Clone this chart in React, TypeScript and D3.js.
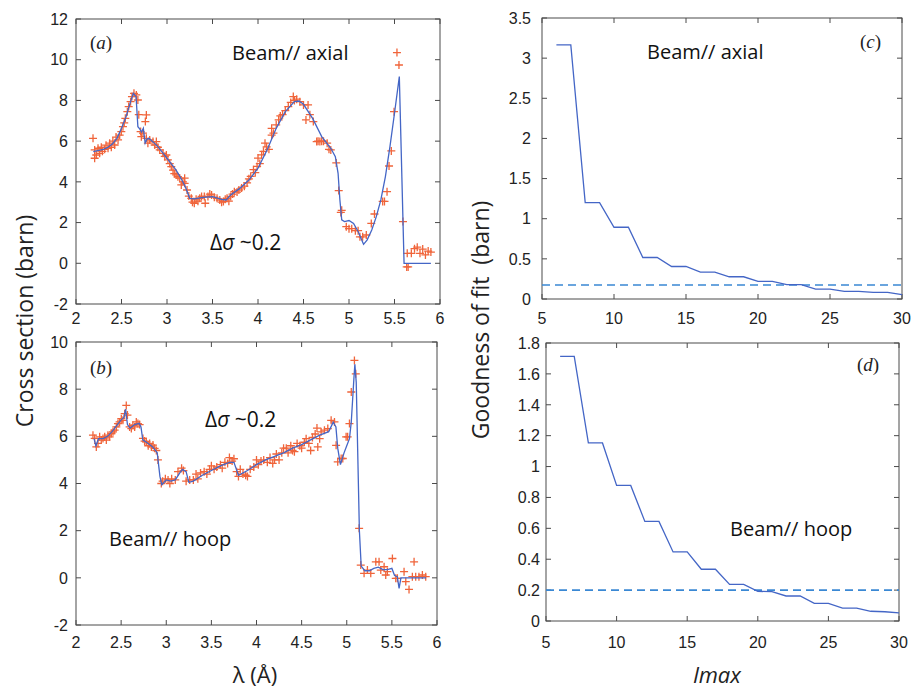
import React from 'react';
import * as d3 from 'd3';

// ---------- tick values ----------
const lambdaTicks = [2, 2.5, 3, 3.5, 4, 4.5, 5, 5.5, 6];
const axialYTicks = [-2, 0, 2, 4, 6, 8, 10, 12];
const hoopYTicks = [-2, 0, 2, 4, 6, 8, 10];
const lmaxTicks = [5, 10, 15, 20, 25, 30];
const gofAxialTicks = [0, 0.5, 1, 1.5, 2, 2.5, 3, 3.5];
const gofHoopTicks = [0, 0.2, 0.4, 0.6, 0.8, 1, 1.2, 1.4, 1.6, 1.8];

// ---------- panel (a): Beam // axial ----------
const axialFitLambda = [2.19, 2.25, 2.3, 2.35, 2.4, 2.45, 2.5, 2.55, 2.6, 2.63, 2.66, 2.68, 2.7, 2.72, 2.74, 2.76, 2.78, 2.8, 2.85, 2.9, 2.95, 3.0, 3.05, 3.1, 3.15, 3.2, 3.25, 3.3, 3.4, 3.5, 3.6, 3.65, 3.7, 3.8, 3.9, 4.0, 4.1, 4.2, 4.3, 4.4, 4.45, 4.5, 4.6, 4.7, 4.8, 4.85, 4.88, 4.9, 4.92, 4.95, 5.0, 5.05, 5.1, 5.16, 5.2, 5.25, 5.3, 5.35, 5.4, 5.45, 5.5, 5.553, 5.605, 5.9];
const axialFitSigma = [5.48, 5.55, 5.6, 5.7, 5.86, 6.14, 6.63, 7.2, 7.94, 8.35, 8.19, 6.71, 6.6, 6.45, 6.63, 5.9, 6.1, 6.14, 5.95, 5.73, 5.45, 5.16, 4.87, 4.58, 4.2, 3.77, 3.19, 3.16, 3.24, 3.27, 3.14, 3.11, 3.36, 3.68, 4.09, 4.67, 5.57, 6.63, 7.45, 7.94, 7.97, 7.81, 7.12, 6.22, 5.65, 5.24, 4.42, 3.11, 2.13, 2.05, 2.1, 1.96, 1.56, 0.93, 1.15, 1.64, 2.29, 3.11, 4.26, 5.73, 7.37, 9.17, 0, 0];
const axialPoints: [number, number][] = [
  [2.187, 6.14], [2.205, 5.57], [2.205, 5.16], [2.223, 5.32], [2.242, 5.65], [2.26, 5.4], [2.278, 5.7], [2.29, 5.5], [2.315, 5.6], [2.33, 5.8], [2.352, 5.65], [2.37, 5.9], [2.388, 5.7], [2.405, 6.0], [2.425, 5.81], [2.44, 6.2], [2.462, 6.06], [2.48, 6.3], [2.498, 6.47], [2.516, 6.71], [2.53, 6.9], [2.542, 7.12], [2.564, 7.45], [2.579, 7.7], [2.6, 7.94], [2.615, 8.19], [2.637, 8.35], [2.663, 8.27], [2.68, 8.02], [2.69, 7.3], [2.71, 6.47], [2.718, 6.22], [2.736, 6.39], [2.762, 6.96], [2.773, 7.29], [2.773, 6.14], [2.79, 5.9], [2.81, 6.06], [2.846, 5.98], [2.865, 5.81], [2.883, 5.98], [2.9, 5.7], [2.92, 5.57], [2.956, 5.4], [2.975, 5.25], [2.993, 5.32], [3.01, 5.08], [3.03, 4.9], [3.047, 4.75], [3.066, 4.58], [3.08, 4.4], [3.1, 4.34], [3.12, 4.25], [3.14, 4.18], [3.157, 3.85], [3.175, 4.0], [3.194, 4.18], [3.194, 3.93], [3.22, 3.6], [3.24, 3.3], [3.267, 3.19], [3.28, 3.0], [3.3, 2.95], [3.32, 3.15], [3.34, 3.05], [3.36, 3.19], [3.38, 3.28], [3.41, 3.28], [3.42, 2.95], [3.45, 3.28], [3.47, 3.4], [3.49, 3.36], [3.52, 3.25], [3.55, 3.19], [3.58, 3.11], [3.6, 3.0], [3.62, 3.03], [3.64, 3.15], [3.66, 3.19], [3.68, 3.05], [3.7, 3.28], [3.72, 3.4], [3.74, 3.52], [3.77, 3.5], [3.79, 3.6], [3.82, 3.7], [3.85, 3.79], [3.88, 3.95], [3.9, 4.15], [3.92, 4.27], [3.95, 4.6], [3.97, 4.45], [3.99, 4.76], [4.0, 5.17], [4.02, 4.9], [4.04, 5.33], [4.06, 5.5], [4.077, 5.9], [4.095, 5.72], [4.12, 5.6], [4.15, 6.3], [4.15, 6.63], [4.17, 6.39], [4.2, 6.8], [4.227, 7.04], [4.245, 7.24], [4.27, 7.3], [4.3, 7.5], [4.333, 7.7], [4.36, 7.9], [4.388, 8.19], [4.4, 8.0], [4.425, 8.06], [4.46, 7.94], [4.5, 7.78], [4.527, 7.04], [4.55, 7.78], [4.57, 7.3], [4.608, 6.96], [4.645, 5.98], [4.66, 6.0], [4.68, 5.98], [4.7, 6.0], [4.72, 6.0], [4.76, 5.9], [4.78, 5.6], [4.8, 5.57], [4.86, 4.93], [4.887, 3.57], [4.91, 2.5], [4.92, 2.6], [4.97, 1.8], [5.0, 1.7], [5.03, 1.7], [5.07, 1.6], [5.1, 1.6], [5.12, 1.3], [5.15, 1.3], [5.19, 1.39], [5.245, 1.96], [5.28, 2.42], [5.37, 3.04], [5.39, 3.04], [5.418, 3.52], [5.44, 4.78], [5.465, 5.52], [5.495, 7.45], [5.527, 10.35], [5.549, 9.74], [5.593, 2.05], [5.634, -0.18], [5.65, -0.18], [5.64, 0.49], [5.685, 0.49], [5.72, 0.72], [5.75, 0.79], [5.78, 0.49], [5.81, 0.7], [5.84, 0.41], [5.87, 0.6], [5.9, 0.55],
];

// ---------- panel (b): Beam // hoop ----------
const hoopFitLambda = [2.2, 2.22, 2.25, 2.3, 2.35, 2.4, 2.45, 2.5, 2.53, 2.55, 2.57, 2.6, 2.65, 2.7, 2.72, 2.74, 2.8, 2.85, 2.9, 2.93, 2.95, 3.0, 3.05, 3.1, 3.15, 3.18, 3.22, 3.25, 3.3, 3.4, 3.5, 3.6, 3.7, 3.75, 3.8, 3.9, 4.0, 4.1, 4.2, 4.3, 4.4, 4.5, 4.6, 4.7, 4.8, 4.85, 4.88, 4.9, 4.93, 4.97, 5.0, 5.03, 5.05, 5.08, 5.09, 5.105, 5.14, 5.16, 5.2, 5.25, 5.3, 5.35, 5.4, 5.45, 5.5, 5.53, 5.56, 5.58, 5.6, 5.88];
const hoopFitSigma = [5.9, 5.6, 5.9, 5.9, 6.0, 6.2, 6.45, 6.7, 6.8, 7.15, 6.5, 6.35, 6.5, 6.55, 6.4, 5.85, 5.7, 5.55, 5.3, 4.3, 3.95, 4.15, 4.1, 4.15, 4.45, 4.6, 4.5, 4.05, 4.1, 4.35, 4.55, 4.75, 4.9, 4.9, 4.35, 4.55, 4.8, 5.0, 5.15, 5.3, 5.5, 5.65, 5.85, 6.05, 6.2, 6.6, 6.4, 5.5, 4.8, 5.3, 5.6, 5.9, 6.6, 8.5, 9.05, 8.3, 2.0, 0.5, 0.3, 0.3, 0.4, 0.45, 0.35, 0.35, 0.4, 0.1, 0.05, -0.45, 0.0, 0.0];
const hoopPoints: [number, number][] = [
  [2.188, 6.05], [2.207, 5.91], [2.225, 5.55], [2.244, 5.7], [2.262, 5.98], [2.28, 5.84], [2.299, 5.91], [2.318, 5.98], [2.336, 5.84], [2.354, 6.05], [2.373, 5.98], [2.391, 6.12], [2.41, 6.19], [2.428, 6.26], [2.447, 6.4], [2.465, 6.54], [2.483, 6.61], [2.502, 6.75], [2.52, 6.68], [2.539, 6.96], [2.557, 7.31], [2.57, 6.9], [2.594, 6.4], [2.613, 6.33], [2.63, 6.47], [2.65, 6.4], [2.668, 6.61], [2.686, 6.54], [2.705, 6.5], [2.742, 5.91], [2.76, 5.8], [2.779, 5.77], [2.8, 5.6], [2.816, 5.7], [2.835, 5.55], [2.853, 5.63], [2.871, 5.49], [2.89, 5.4], [2.908, 5.0], [2.945, 4.0], [2.96, 4.1], [2.99, 4.2], [3.02, 4.15], [3.04, 4.0], [3.06, 4.2], [3.1, 4.15], [3.13, 4.5], [3.17, 4.65], [3.19, 4.55], [3.22, 4.1], [3.26, 4.15], [3.3, 4.15], [3.33, 4.4], [3.35, 4.2], [3.38, 4.45], [3.42, 4.5], [3.45, 4.4], [3.48, 4.6], [3.5, 4.75], [3.53, 4.6], [3.56, 4.7], [3.6, 4.8], [3.62, 4.65], [3.65, 4.9], [3.68, 4.85], [3.7, 5.1], [3.73, 4.95], [3.75, 5.05], [3.78, 4.5], [3.8, 4.3], [3.82, 4.6], [3.85, 4.4], [3.88, 4.35], [3.9, 4.3], [3.93, 4.6], [3.97, 4.7], [4.0, 5.0], [4.02, 4.8], [4.05, 4.95], [4.08, 5.0], [4.12, 4.9], [4.15, 5.1], [4.18, 4.85], [4.2, 5.0], [4.22, 5.25], [4.25, 5.0], [4.28, 5.3], [4.3, 5.5], [4.33, 5.5], [4.35, 5.3], [4.38, 5.6], [4.4, 5.4], [4.42, 5.35], [4.45, 5.7], [4.48, 5.6], [4.5, 5.5], [4.53, 5.75], [4.55, 5.9], [4.58, 5.7], [4.6, 5.4], [4.62, 5.95], [4.65, 6.1], [4.67, 6.35], [4.679, 5.55], [4.7, 5.9], [4.716, 6.19], [4.753, 6.26], [4.79, 6.33], [4.827, 6.68], [4.864, 6.61], [4.882, 5.62], [4.9, 4.92], [4.938, 5.06], [4.956, 5.06], [4.993, 5.98], [5.01, 5.98], [5.03, 6.54], [5.05, 7.88], [5.085, 9.22], [5.1, 8.65], [5.137, 2.1], [5.155, 0.54], [5.192, 0.19], [5.229, 0.33], [5.266, 0.19], [5.322, 0.68], [5.358, 0.68], [5.377, 0.33], [5.414, 0.47], [5.432, 0.12], [5.45, 0.26], [5.506, 0.82], [5.543, -0.02], [5.561, -0.02], [5.635, 0.26], [5.654, -0.16], [5.69, -0.49], [5.727, 0.05], [5.746, 0.68], [5.764, 0.05], [5.8, 0.05], [5.838, 0.12], [5.875, 0.05],
];

// ---------- panels (c), (d): goodness of fit vs lmax ----------
const lmaxValues = [6, 7, 8, 9, 10, 11, 12, 13, 14, 15, 16, 17, 18, 19, 20, 21, 22, 23, 24, 25, 26, 27, 28, 29, 30];
const gofAxial = [3.165, 3.165, 1.2, 1.2, 0.894, 0.894, 0.517, 0.517, 0.405, 0.405, 0.335, 0.335, 0.277, 0.277, 0.219, 0.219, 0.178, 0.178, 0.124, 0.124, 0.095, 0.095, 0.083, 0.083, 0.054];
const gofHoop = [1.714, 1.714, 1.153, 1.153, 0.878, 0.878, 0.645, 0.645, 0.447, 0.447, 0.335, 0.335, 0.237, 0.237, 0.192, 0.19, 0.162, 0.162, 0.114, 0.114, 0.084, 0.084, 0.063, 0.06, 0.052];
const thresholdAxial = 0.175;
const thresholdHoop = 0.2;

const FIT_COLOR = '#4466c6';
const PT_COLOR = '#f0643a';
const DASH_COLOR = '#3a88d4';
const FRAME = '#4a4a4a';
const SANS = '"Open Sans", sans-serif';
const TICKFONT = '"Liberation Sans", Arial, sans-serif';
const SERIF = '"Liberation Serif", "Times New Roman", serif';

type Box = { l: number; r: number; t: number; b: number };

function Frame({ box, x, y, xTicks, yTicks, yLabelGap, xLabelBase }: {
  box: Box; x: d3.ScaleLinear<number, number>; y: d3.ScaleLinear<number, number>;
  xTicks: number[]; yTicks: number[]; yLabelGap: number; xLabelBase: number;
}) {
  const tl = 5;
  return (
    <g>
      <rect x={box.l} y={box.t} width={box.r - box.l} height={box.b - box.t} fill="none" stroke={FRAME} strokeWidth={1} />
      {xTicks.map((v) => (
        <g key={'x' + v}>
          <line x1={x(v)} x2={x(v)} y1={box.b} y2={box.b - tl} stroke={FRAME} />
          <line x1={x(v)} x2={x(v)} y1={box.t} y2={box.t + tl} stroke={FRAME} />
          <text x={x(v)} y={xLabelBase} textAnchor="middle" fontFamily={TICKFONT} fontSize={16} fill="#222">{String(v)}</text>
        </g>
      ))}
      {yTicks.map((v) => (
        <g key={'y' + v}>
          <line x1={box.l} x2={box.l + tl} y1={y(v)} y2={y(v)} stroke={FRAME} />
          <line x1={box.r} x2={box.r - tl} y1={y(v)} y2={y(v)} stroke={FRAME} />
          <text x={box.l - yLabelGap} y={y(v)} dy="0.36em" textAnchor="end" fontFamily={TICKFONT} fontSize={16} fill="#222">{String(v)}</text>
        </g>
      ))}
    </g>
  );
}

function PanelTag({ x, y, letter }: { x: number; y: number; letter: string }) {
  return (
    <text x={x} y={y} fontFamily={SERIF} fontSize={19} fill="#222">
      (<tspan fontStyle="italic">{letter}</tspan>)
    </text>
  );
}

function DeltaSigma({ x, y }: { x: number; y: number }) {
  return (
    <text x={x} y={y} fontFamily={SANS} fontSize={21} fill="#111">
      Δ<tspan fontStyle="italic">σ</tspan> ~0.2
    </text>
  );
}

function SpectrumPanel({ box, yDomain, yTicks, fitL, fitS, pts, xLabelBase, yLabelGap }: {
  box: Box; yDomain: [number, number]; yTicks: number[]; fitL: number[]; fitS: number[];
  pts: [number, number][]; xLabelBase: number; yLabelGap: number;
}) {
  const x = d3.scaleLinear().domain([2, 6]).range([box.l, box.r]);
  const y = d3.scaleLinear().domain(yDomain).range([box.b, box.t]);
  const line = d3.line<number>().x((_, i) => x(fitL[i])).y((_, i) => y(fitS[i]));
  const s = 4;
  return (
    <g>
      <Frame box={box} x={x} y={y} xTicks={lambdaTicks} yTicks={yTicks} yLabelGap={yLabelGap} xLabelBase={xLabelBase} />
      <g stroke={PT_COLOR} strokeWidth={1.3}>
        {pts.map(([a, b], i) => (
          <path key={i} d={`M${x(a) - s},${y(b)}H${x(a) + s}M${x(a)},${y(b) - s}V${y(b) + s}`} />
        ))}
      </g>
      <path d={line(fitL) || ''} fill="none" stroke={FIT_COLOR} strokeWidth={1.3} />
    </g>
  );
}

function GofPanel({ box, yDomain, yTicks, values, threshold, xLabelBase, yLabelGap }: {
  box: Box; yDomain: [number, number]; yTicks: number[]; values: number[]; threshold: number;
  xLabelBase: number; yLabelGap: number;
}) {
  const x = d3.scaleLinear().domain([5, 30]).range([box.l, box.r]);
  const y = d3.scaleLinear().domain(yDomain).range([box.b, box.t]);
  const line = d3.line<number>().x((_, i) => x(lmaxValues[i])).y((d) => y(d));
  return (
    <g>
      <Frame box={box} x={x} y={y} xTicks={lmaxTicks} yTicks={yTicks} yLabelGap={yLabelGap} xLabelBase={xLabelBase} />
      <line x1={box.l} x2={box.r} y1={y(threshold)} y2={y(threshold)} stroke={DASH_COLOR} strokeWidth={1.6} strokeDasharray="8,5" />
      <path d={line(values) || ''} fill="none" stroke={FIT_COLOR} strokeWidth={1.3} />
    </g>
  );
}

export default function App() {
  const boxA: Box = { l: 76, r: 440, t: 19, b: 304 };
  const boxB: Box = { l: 76, r: 437, t: 342, b: 625 };
  const boxC: Box = { l: 542, r: 902, t: 18, b: 299 };
  const boxD: Box = { l: 546, r: 899, t: 343, b: 621 };
  return (
    <svg width={914} height={688} style={{ position: 'absolute', left: 0, top: 0, background: '#fff' }}>
      <rect x={0} y={0} width={914} height={688} fill="#fff" />
      <SpectrumPanel box={boxA} yDomain={[-2, 12]} yTicks={axialYTicks} fitL={axialFitLambda} fitS={axialFitSigma} pts={axialPoints} xLabelBase={324} yLabelGap={8} />
      <SpectrumPanel box={boxB} yDomain={[-2, 10]} yTicks={hoopYTicks} fitL={hoopFitLambda} fitS={hoopFitSigma} pts={hoopPoints} xLabelBase={648} yLabelGap={8} />
      <GofPanel box={boxC} yDomain={[0, 3.5]} yTicks={gofAxialTicks} values={gofAxial} threshold={thresholdAxial} xLabelBase={324} yLabelGap={11} />
      <GofPanel box={boxD} yDomain={[0, 1.8]} yTicks={gofHoopTicks} values={gofHoop} threshold={thresholdHoop} xLabelBase={648} yLabelGap={6} />

      <PanelTag x={90} y={49} letter="a" />
      <PanelTag x={90} y={374} letter="b" />
      <PanelTag x={860} y={48} letter="c" />
      <PanelTag x={857} y={371} letter="d" />

      <text x={232} y={60} fontFamily={SANS} fontSize={20} fill="#111">Beam// axial</text>
      <DeltaSigma x={210} y={250} />
      <DeltaSigma x={205} y={427} />
      <text x={109} y={546} fontFamily={SANS} fontSize={20} fill="#111">Beam// hoop</text>
      <text x={647} y={59} fontFamily={SANS} fontSize={20} fill="#111">Beam// axial</text>
      <text x={730} y={536} fontFamily={SANS} fontSize={20} fill="#111">Beam// hoop</text>

      <text transform="translate(33,321) rotate(-90)" textAnchor="middle" fontFamily={SANS} fontSize={23} fill="#222">Cross section (barn)</text>
      <text transform="translate(489,320) rotate(-90)" textAnchor="middle" fontFamily={SANS} fontSize={23} fill="#222" style={{ whiteSpace: 'pre' }}>{'Goodness of fit  (barn)'}</text>
      <text x={255} y={683} textAnchor="middle" fontFamily={SANS} fontSize={22} fill="#222">λ (Å)</text>
      <text x={717} y={683} textAnchor="middle" fontFamily={SANS} fontSize={22} fontStyle="italic" fill="#222">lmax</text>
    </svg>
  );
}
